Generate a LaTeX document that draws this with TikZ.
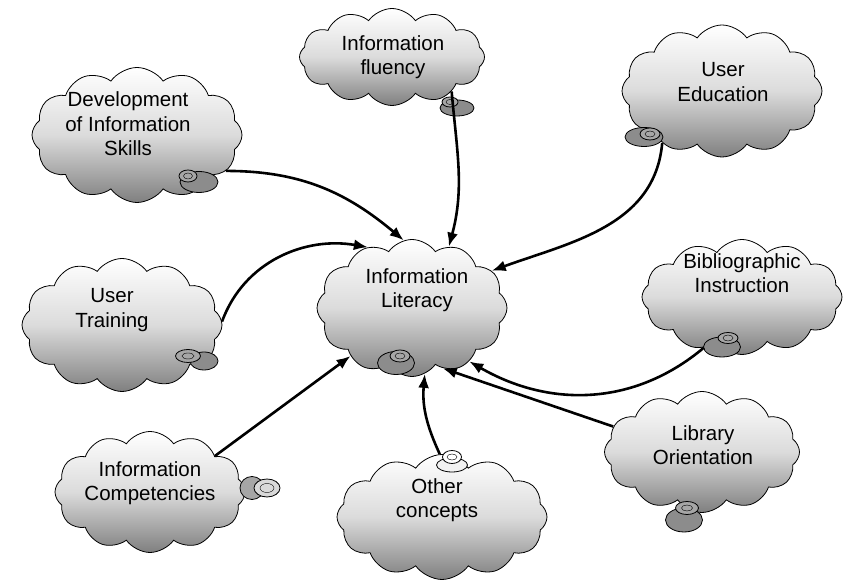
\documentclass[tikz,border=0pt]{standalone}
\usepackage{fontspec}
\setmainfont{Liberation Sans}
\usetikzlibrary{shapes.symbols,arrows.meta}

\begin{document}
\begin{tikzpicture}[x=1pt,y=1pt]
  \tikzstyle{cl}=[
    draw, cloud, cloud puffs=12, cloud puff arc=110,
    line width=0.8pt,
    top color=white, bottom color=black!50, middle color=black!14,
    inner sep=0pt
  ]
  \tikzstyle{lbl}=[align=center, font=\fontsize{20.5}{24.5}\selectfont]
  \tikzstyle{bub}=[draw, line width=0.8pt, fill=black!45]
  \tikzstyle{ring}=[bub, fill=black!35]
  \tikzstyle{arr}=[line width=2.6pt, -{Latex[length=14pt,width=11pt]}]

  \useasboundingbox (0,0) rectangle (845,585);

  % clouds
  \node[cl, minimum width=210pt, minimum height=135pt] (dev) at (137,450) {};
  \node[cl, minimum width=185pt, minimum height=97pt]  (flu) at (392,528) {};
  \node[cl, minimum width=200pt, minimum height=132pt] (edu) at (722,494) {};
  \node[cl, minimum width=190pt, minimum height=137pt] (lit) at (412,277) {};
  \node[cl, minimum width=200pt, minimum height=115pt] (bib) at (742,288) {};
  \node[cl, minimum width=200pt, minimum height=133pt] (trn) at (122,260) {};
  \node[cl, minimum width=190pt, minimum height=121pt] (cmp) at (150,93) {};
  \node[cl, minimum width=210pt, minimum height=125pt] (oth) at (442,68) {};
  \node[cl, minimum width=195pt, minimum height=121pt] (lib) at (702,133) {};

  \node[lbl] at ([shift={(-9,11)}]dev) {Development\\of Information\\Skills};
  \node[lbl] at ([shift={(1,0)}]flu)   {Information\\fluency};
  \node[lbl] at ([shift={(1,9)}]edu)   {User\\Education};
  \node[lbl] at ([shift={(5,18)}]lit)  {Information\\Literacy};
  \node[lbl] at ([shift={(0,24)}]bib)  {Bibliographic\\Instruction};
  \node[lbl] at ([shift={(-10,15)}]trn) {User\\Training};
  \node[lbl] at ([shift={(0,9)}]cmp)   {Information\\Competencies};
  \node[lbl] at ([shift={(-5,17)}]oth) {Other\\concepts};
  \node[lbl] at ([shift={(1,7)}]lib)   {Library\\Orientation};

  % thought bubbles
  \draw[bub] (199,403) ellipse (19 and 10.5);
  \draw[ring] (188,409) ellipse (9 and 6);  \draw (188,409) ellipse (4.5 and 3);
  \draw[bub] (457,477) ellipse (17 and 8);
  \draw[ring] (450,483) ellipse (8 and 5);  \draw (450,483) ellipse (4 and 2.5);
  \draw[bub] (644,448) ellipse (19 and 9.5);
  \draw[ring] (650,451) ellipse (10 and 6); \draw (650,451) ellipse (5 and 3);
  \draw[bub] (396,222) ellipse (18.5 and 11.5);
  \draw[ring] (400,229) ellipse (10 and 6); \draw (400,229) ellipse (5 and 3);
  \draw[bub] (722,238) ellipse (18.5 and 10);
  \draw[ring] (728,247) ellipse (10 and 5.5); \draw (728,247) ellipse (5 and 3);
  \draw[bub] (204,224) ellipse (14 and 9);
  \draw[ring] (188,229) ellipse (12.5 and 6.5); \draw (188,229) ellipse (6 and 3);
  \draw[bub, fill=black!35] (252,97) ellipse (12 and 11.5);
  \draw[ring, fill=black!15] (267,97) ellipse (13 and 9); \draw (267,97) ellipse (7 and 4.5);
  \draw[bub, fill=black!5] (452,120) ellipse (15.5 and 7);
  \draw[ring, fill=white] (452,128) ellipse (9.5 and 6.5); \draw (452,128) ellipse (5 and 3);
  \draw[bub] (684,65) ellipse (18.5 and 12);
  \draw[ring] (687,77) ellipse (11.5 and 6.5); \draw (687,77) ellipse (5.5 and 3);

  % arrows
  \draw[arr] (dev.-22) to[out=0, in=140] (lit.97);
  \draw[arr] (flu.-30) to[out=-85, in=75] (lit.59);
  \draw[arr] (edu.221) to[out=-95, in=20] (lit.25);
  \draw[arr] (trn.2) to[out=70, in=170] (lit.126);
  \draw[arr] (cmp.29) -- (lit.218);
  \draw[arr] (oth.92) to[out=115, in=-95] (lit.-79);
  \draw[arr] (lib.164) -- (lit.-63);
  \draw[arr] (bib.233) to[out=-140, in=-30] (lit.-43);
\end{tikzpicture}
\end{document}
